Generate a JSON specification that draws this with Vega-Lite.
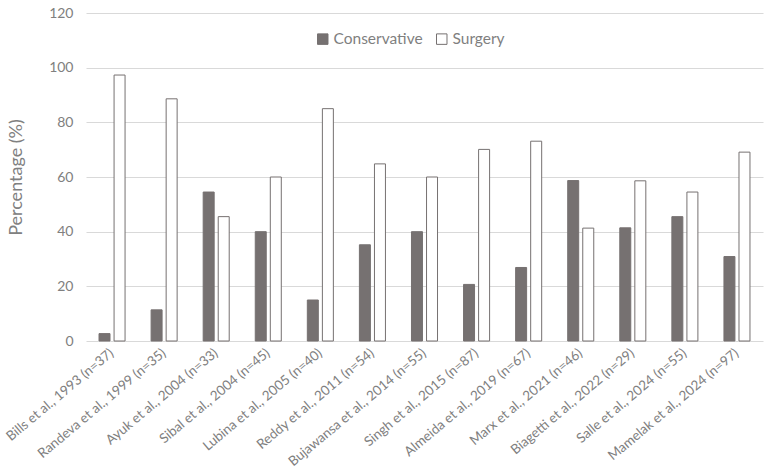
{
  "$schema": "https://vega.github.io/schema/vega-lite/v6.json",
  "width": 677,
  "height": 328,
  "autosize": {"type": "none"},
  "padding": {"left": 86, "top": 13, "right": 7, "bottom": 134},
  "background": "white",
  "data": {
    "values": [
      {"study": "Bills et al., 1993 (n=37)", "group": "Conservative", "pct": 2.7},
      {"study": "Bills et al., 1993 (n=37)", "group": "Surgery", "pct": 97.3},
      {"study": "Randeva et al., 1999 (n=35)", "group": "Conservative", "pct": 11.4},
      {"study": "Randeva et al., 1999 (n=35)", "group": "Surgery", "pct": 88.6},
      {"study": "Ayuk et al., 2004  (n=33)", "group": "Conservative", "pct": 54.5},
      {"study": "Ayuk et al., 2004  (n=33)", "group": "Surgery", "pct": 45.5},
      {"study": "Sibal et al., 2004 (n=45)", "group": "Conservative", "pct": 40.0},
      {"study": "Sibal et al., 2004 (n=45)", "group": "Surgery", "pct": 60.0},
      {"study": "Lubina et al., 2005 (n=40)", "group": "Conservative", "pct": 15.0},
      {"study": "Lubina et al., 2005 (n=40)", "group": "Surgery", "pct": 85.0},
      {"study": "Reddy et al., 2011 (n=54)", "group": "Conservative", "pct": 35.2},
      {"study": "Reddy et al., 2011 (n=54)", "group": "Surgery", "pct": 64.8},
      {"study": "Bujawansa et al., 2014 (n=55)", "group": "Conservative", "pct": 40.0},
      {"study": "Bujawansa et al., 2014 (n=55)", "group": "Surgery", "pct": 60.0},
      {"study": "Singh et al., 2015 (n=87)", "group": "Conservative", "pct": 20.7},
      {"study": "Singh et al., 2015 (n=87)", "group": "Surgery", "pct": 70.1},
      {"study": "Almeida et al., 2019 (n=67)", "group": "Conservative", "pct": 26.9},
      {"study": "Almeida et al., 2019 (n=67)", "group": "Surgery", "pct": 73.1},
      {"study": "Marx et al., 2021 (n=46)", "group": "Conservative", "pct": 58.7},
      {"study": "Marx et al., 2021 (n=46)", "group": "Surgery", "pct": 41.3},
      {"study": "Biagetti et al., 2022 (n=29)", "group": "Conservative", "pct": 41.4},
      {"study": "Biagetti et al., 2022 (n=29)", "group": "Surgery", "pct": 58.6},
      {"study": "Salle et al., 2024 (n=55)", "group": "Conservative", "pct": 45.5},
      {"study": "Salle et al., 2024 (n=55)", "group": "Surgery", "pct": 54.5},
      {"study": "Mamelak et al., 2024 (n=97)", "group": "Conservative", "pct": 30.9},
      {"study": "Mamelak et al., 2024 (n=97)", "group": "Surgery", "pct": 69.1}
    ]
  },
  "mark": {"type": "bar", "stroke": "#767171", "strokeWidth": 1},
  "encoding": {
    "x": {
      "field": "study",
      "type": "nominal",
      "sort": null,
      "title": null,
      "scale": {"paddingInner": 0.5, "paddingOuter": 0.25},
      "axis": {
        "labelAngle": -40,
        "labelAlign": "right",
        "labelBaseline": "middle",
        "labelPadding": 10,
        "ticks": false,
        "domain": false,
        "labelFontSize": 13.5
      }
    },
    "xOffset": {
      "field": "group",
      "type": "nominal",
      "scale": {"paddingInner": 0.27, "paddingOuter": 0}
    },
    "y": {
      "field": "pct",
      "type": "quantitative",
      "title": "Percentage (%)",
      "scale": {"domain": [0, 120]},
      "axis": {
        "values": [0, 20, 40, 60, 80, 100, 120],
        "ticks": false,
        "tickSize": 0,
        "domain": false,
        "labelPadding": 13,
        "labelFontSize": 14,
        "titleFontSize": 18,
        "titlePadding": 23,
        "titleFontWeight": "normal"
      }
    },
    "fill": {
      "field": "group",
      "type": "nominal",
      "scale": {"domain": ["Conservative", "Surgery"], "range": ["#767171", "#ffffff"]},
      "legend": {
        "title": null,
        "orient": "none",
        "direction": "horizontal",
        "legendX": 229,
        "legendY": 18,
        "symbolType": "square",
        "symbolSize": 110,
        "symbolStrokeColor": "#767171",
        "symbolStrokeWidth": 1,
        "labelFontSize": 15.5,
        "labelOffset": 3,
        "columnPadding": 11
      }
    }
  },
  "config": {
    "font": "Lato",
    "view": {"stroke": null},
    "axis": {
      "gridColor": "#d9d9d9",
      "gridWidth": 1.2,
      "labelColor": "#808080",
      "titleColor": "#808080",
      "labelFont": "Lato",
      "titleFont": "Lato"
    },
    "legend": {"labelColor": "#7f7f7f", "labelFont": "Lato"}
  }
}
